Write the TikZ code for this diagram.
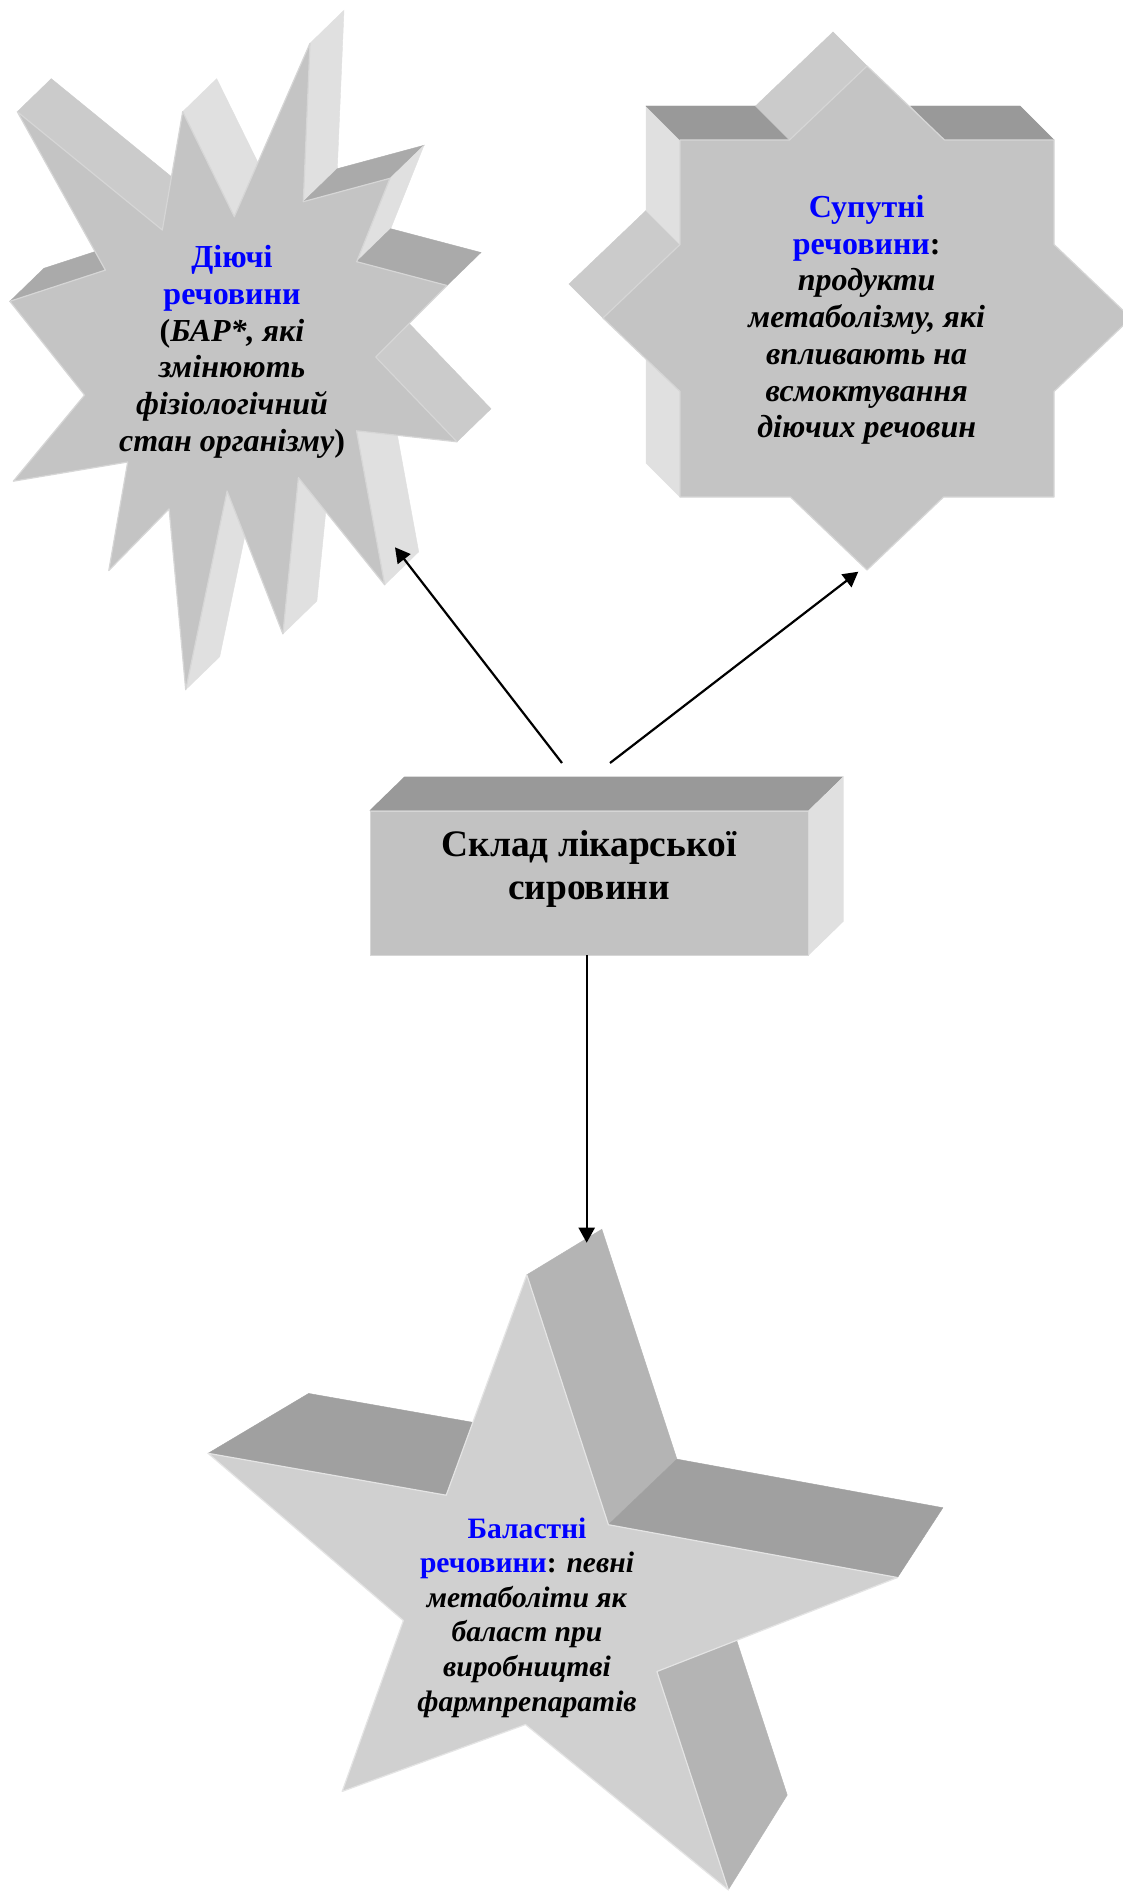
\documentclass[tikz,border=0pt]{standalone}
\usepackage{fontspec}
\setmainfont{Liberation Serif}
\usetikzlibrary{calc,arrows.meta}

\definecolor{lsFront}{HTML}{C4C4C4}
\definecolor{lsDark}{HTML}{AAAAAA}
\definecolor{lsLight}{HTML}{E0E0E0}
\definecolor{lsMid}{HTML}{CBCBCB}
\definecolor{rsDark}{HTML}{999999}
\definecolor{boxFront}{HTML}{C2C2C2}
\definecolor{bsFront}{HTML}{D0D0D0}
\definecolor{bsDark}{HTML}{A0A0A0}
\definecolor{bsMid}{HTML}{B4B4B4}
\definecolor{rimLight}{HTML}{D6D6D6}
\definecolor{rimPale}{HTML}{E4E4E4}

\newcommand\blueword[1]{\textcolor{blue}{\textbf{#1}}}
\newcommand\itbold[1]{\textbf{\textit{#1}}}
% side face of a parallel extrusion: edge A-B shifted by (dx,dy)
\newcommand\sideface[5]{\fill[#1,draw=#1,line width=0.2pt] (#2) -- (#3) -- ($(#3)+(#4,#5)$) -- ($(#2)+(#4,#5)$) -- cycle;}
% side face of a perspective extrusion towards the vanishing point (vp)
\newcommand\persface[3]{\fill[#1,draw=#1,line width=0.2pt] (#2) -- (#3) -- ($(#3)!0.08!(vp)$) -- ($(#2)!0.08!(vp)$) -- cycle;}

\begin{document}
\begin{tikzpicture}[x=0.5pt,y=-0.5pt,
  conn/.style={line width=1.1pt,-{Triangle[length=7.5pt,width=8pt]}},
  startext/.style={align=center,inner sep=0pt,font=\fontsize{16}{18.35}\selectfont},
  boxtext/.style={align=center,inner sep=0pt,font=\fontsize{18.7}{21.65}\selectfont\bfseries},
  rim/.style={draw=#1,line width=0.6pt,line join=round}]

\useasboundingbox (0,0) rectangle (1123,1894);
\fill[white] (0,0) rectangle (1123,1894);
\clip (0,0) rectangle (1123,1894);

% ---------- twelve-pointed star (active substances) ----------
\coordinate (ls1) at (17.3,111.7);
\coordinate (ls2) at (162.3,230);
\coordinate (ls3) at (182.7,111.7);
\coordinate (ls4) at (234.3,216.7);
\coordinate (ls5) at (310,43.3);
\coordinate (ls6) at (303.3,201.7);
\coordinate (ls7) at (390,178.3);
\coordinate (ls8) at (356.7,261.7);
\coordinate (ls9) at (447,285.5);
\coordinate (ls10) at (375.7,357);
\coordinate (ls11) at (457,441.8);
\coordinate (ls12) at (356.5,430.8);
\coordinate (ls13) at (384.7,584.8);
\coordinate (ls14) at (298.4,477.6);
\coordinate (ls15) at (282.9,633.9);
\coordinate (ls16) at (227.1,491);
\coordinate (ls17) at (185.7,689.7);
\coordinate (ls18) at (169.1,508.9);
\coordinate (ls19) at (108.8,570.5);
\coordinate (ls20) at (127.7,462);
\coordinate (ls21) at (13.3,481.2);
\coordinate (ls22) at (84.6,395.1);
\coordinate (ls23) at (9.9,301.3);
\coordinate (ls24) at (105.4,270.1);

\sideface{lsMid}{ls1}{ls2}{34}{-33}
\sideface{lsLight}{ls3}{ls4}{34}{-33}
\sideface{lsLight}{ls5}{ls6}{34}{-33}
\sideface{lsDark}{ls6}{ls7}{34}{-33}
\sideface{lsLight}{ls7}{ls8}{34}{-33}
\sideface{lsDark}{ls8}{ls9}{34}{-33}
\sideface{lsMid}{ls10}{ls11}{34}{-33}
\sideface{lsLight}{ls12}{ls13}{34}{-33}
\sideface{lsLight}{ls14}{ls15}{34}{-33}
\sideface{lsLight}{ls16}{ls17}{34}{-33}
\sideface{lsDark}{ls23}{ls24}{34}{-33}

\fill[lsFront,rim=rimLight] (ls1) -- (ls2) -- (ls3) -- (ls4) -- (ls5) -- (ls6) -- (ls7) -- (ls8)
  -- (ls9) -- (ls10) -- (ls11) -- (ls12) -- (ls13) -- (ls14) -- (ls15) -- (ls16)
  -- (ls17) -- (ls18) -- (ls19) -- (ls20) -- (ls21) -- (ls22) -- (ls23) -- (ls24) -- cycle;

% ---------- eight-pointed star (accompanying substances) ----------
\coordinate (rs1) at (867,66);
\coordinate (rs2) at (944.5,140);
\coordinate (rs3) at (1054,140);
\coordinate (rs4) at (1054,244.5);
\coordinate (rs5) at (1131,318);
\coordinate (rs6) at (1054,391.5);
\coordinate (rs7) at (1054,497);
\coordinate (rs8) at (943.5,497);
\coordinate (rs9) at (867,570);
\coordinate (rs10) at (790.5,497);
\coordinate (rs11) at (680,497);
\coordinate (rs12) at (680,391.5);
\coordinate (rs13) at (603,318);
\coordinate (rs14) at (680,244.5);
\coordinate (rs15) at (680,140);
\coordinate (rs16) at (789.5,140);

\sideface{rsDark}{rs2}{rs3}{-34}{-34}
\sideface{lsLight}{rs11}{rs12}{-34}{-34}
\sideface{lsMid}{rs13}{rs14}{-34}{-34}
\sideface{lsLight}{rs14}{rs15}{-34}{-34}
\sideface{rsDark}{rs15}{rs16}{-34}{-34}
\sideface{lsMid}{rs16}{rs1}{-34}{-34}

\fill[lsFront,rim=rimLight] (rs1) -- (rs2) -- (rs3) -- (rs4) -- (rs5) -- (rs6) -- (rs7) -- (rs8)
  -- (rs9) -- (rs10) -- (rs11) -- (rs12) -- (rs13) -- (rs14) -- (rs15) -- (rs16) -- cycle;

% ---------- block (raw material) ----------
\node[fill=boxFront,draw=rimLight,line width=0.5pt,minimum width=219pt,minimum height=72pt,inner sep=0pt]
  (rawbox) at (589,883) {};
\fill[rsDark] (rawbox.north west) -- (rawbox.north east) -- ++(35,-34) -- ($(rawbox.north west)+(35,-34)$) -- cycle;
\fill[lsLight] (rawbox.north east) -- (rawbox.south east) -- ++(35,-34) -- ($(rawbox.north east)+(35,-34)$) -- cycle;

% ---------- five-pointed star (ballast substances) ----------
\coordinate (vp) at (1465,705);
\coordinate (bs1) at (526.8,1274.8);
\coordinate (bs2) at (608.4,1524.7);
\coordinate (bs3) at (897.5,1577.5);
\coordinate (bs4) at (656.9,1671.5);
\coordinate (bs5) at (728.3,1889.8);
\coordinate (bs6) at (525.5,1724.5);
\coordinate (bs7) at (342.2,1791.4);
\coordinate (bs8) at (403.4,1620.5);
\coordinate (bs9) at (208.1,1453.3);
\coordinate (bs10) at (446.2,1495.2);

\persface{bsDark}{bs9}{bs10}
\persface{bsMid}{bs1}{bs2}
\persface{bsDark}{bs2}{bs3}
\persface{bsMid}{bs4}{bs5}

\fill[bsFront,rim=rimPale] (bs1) -- (bs2) -- (bs3) -- (bs4) -- (bs5) -- (bs6) -- (bs7) -- (bs8)
  -- (bs9) -- (bs10) -- cycle;

% ---------- texts ----------
\node[startext] (active) at (232,351.7)
  {\blueword{Діючі}\\ \blueword{речовини}\\ \textbf{(}\itbold{БАР*, які}\\ \itbold{змінюють}\\
   \itbold{фізіологічний}\\ \itbold{стан організму}\textbf{)}};
\node[startext] (accomp) at (866.7,320)
  {\blueword{Супутні}\\ \blueword{речовини}\textbf{:}\\ \itbold{продукти}\\ \itbold{метаболізму, які}\\
   \itbold{впливають на}\\ \itbold{всмоктування}\\ \itbold{діючих речовин}};
\node[startext,font=\fontsize{14.8}{17.3}\selectfont] (ballast) at (527,1617.5)
  {\blueword{Баластні}\\ \blueword{речовини}\textbf{:} \itbold{певні}\\ \itbold{метаболіти як}\\
   \itbold{баласт при}\\ \itbold{виробництві}\\ \itbold{фармпрепаратів}};
\node[boxtext] (raw) at (589,869) {Склад лікарської\\ сировини};

% ---------- connectors ----------
\coordinate (fromL) at (562,763);
\coordinate (fromR) at (610,763);
\coordinate (fromB) at (586.7,955);
\coordinate (activeTip) at (395,547.3);
\coordinate (accompTip) at (858.3,571.7);
\coordinate (ballastTip) at (586.7,1242.7);
\draw[conn] (fromL) -- (activeTip);
\draw[conn] (fromR) -- (accompTip);
\draw[conn] (fromB) -- (ballastTip);
\end{tikzpicture}
\end{document}
